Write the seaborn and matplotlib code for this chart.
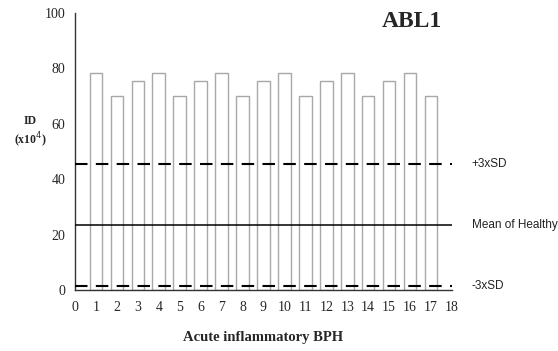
import matplotlib
matplotlib.use("Agg")
import matplotlib.pyplot as plt
import matplotlib.transforms as mtransforms
import seaborn as sns
import pandas as pd

# Sample numbers and their ID values (x10^4)
samples = list(range(1, 18))
id_values = [78.5, 70, 75.5, 78.5, 70, 75.5, 78.5, 70, 75.5,
             78.5, 70, 75.5, 78.5, 70, 75.5, 78.5, 70]

# Reference levels from healthy controls
mean_healthy = 23.5
plus_3sd = 45.4
minus_3sd = 1.4
ref_labels = ["+3xSD", "Mean of Healthy", "-3xSD"]

x_ticks = list(range(0, 19))
y_ticks = [0, 20, 40, 60, 80, 100]

sns.set_style("white")
plt.rcParams["font.family"] = ["Liberation Serif", "DejaVu Serif"]

df = pd.DataFrame({"sample": samples, "id": id_values})

fig = plt.figure(figsize=(5.58, 3.51), dpi=100)
ax = fig.add_axes([0.1344, 0.174, 0.6756, 0.789])

sns.barplot(data=df, x="sample", y="id", native_scale=True, width=0.6,
            color="white", edgecolor="#a8a8a8", linewidth=1.0, ax=ax)
for p in ax.patches:
    p.set_zorder(2)

ax.axhline(plus_3sd, color="black", lw=1.5, ls=(0, (6, 4)), zorder=3)
ax.axhline(mean_healthy, color="black", lw=1.1, zorder=3)
ax.axhline(minus_3sd, color="black", lw=1.5, ls=(0, (6, 4)), zorder=3)

ax.set_xlim(0, 18)
ax.set_ylim(0, 100)
ax.set_xticks(x_ticks)
ax.set_xticklabels([str(t) for t in x_ticks])
ax.set_yticks(y_ticks)
ax.set_yticklabels([str(t) for t in y_ticks])

for s in ["top", "right"]:
    ax.spines[s].set_visible(False)
for s in ["left", "bottom"]:
    ax.spines[s].set_color("#333333")
    ax.spines[s].set_linewidth(1.0)

ax.tick_params(axis="both", which="major", direction="out", length=3,
               width=1.0, color="#333333", labelsize=10, pad=4)
ax.tick_params(axis="x", pad=5)

ax.set_xlabel("Acute inflammatory BPH", fontsize=10.5, fontweight="bold",
              labelpad=12)
ax.set_ylabel("")
fig.text(0.054, 0.622, "ID\n(x10$^4$)", ha="center", va="center",
         fontsize=8.5, fontweight="bold", linespacing=1.25)

fig.text(0.738, 0.94, "ABL1", ha="center", va="center", fontsize=17,
         fontweight="bold")

# right-hand labels: x in figure coordinates, y in data coordinates
label_tr = mtransforms.blended_transform_factory(fig.transFigure, ax.transData)
for lvl, txt in zip([plus_3sd, mean_healthy, minus_3sd], ref_labels):
    ax.text(0.845, lvl, txt, transform=label_tr, ha="left", va="center",
            fontsize=8.5, family="Liberation Sans", color="#222222",
            clip_on=False)

fig.savefig("out.png", dpi=100)
